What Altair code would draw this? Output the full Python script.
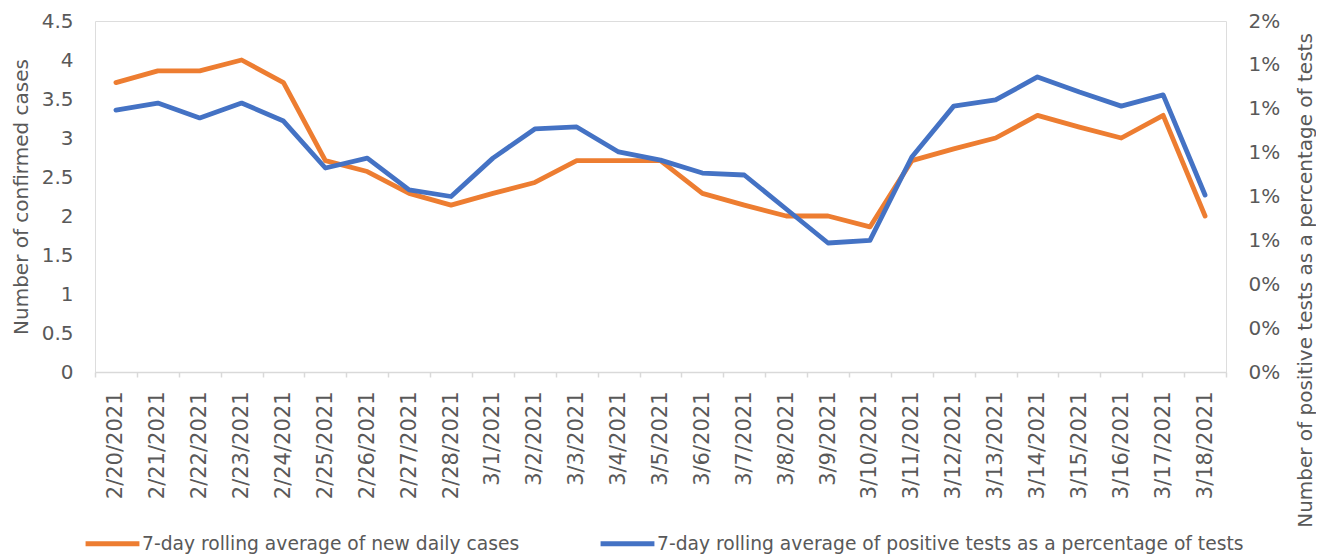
import altair as alt
import pandas as pd

dates = ["2/20/2021", "2/21/2021", "2/22/2021", "2/23/2021", "2/24/2021", "2/25/2021",
         "2/26/2021", "2/27/2021", "2/28/2021", "3/1/2021", "3/2/2021", "3/3/2021",
         "3/4/2021", "3/5/2021", "3/6/2021", "3/7/2021", "3/8/2021", "3/9/2021",
         "3/10/2021", "3/11/2021", "3/12/2021", "3/13/2021", "3/14/2021", "3/15/2021",
         "3/16/2021", "3/17/2021", "3/18/2021"]

cases = [3.71, 3.86, 3.86, 4.00, 3.71, 2.71, 2.57, 2.29, 2.14, 2.29, 2.43, 2.71,
         2.71, 2.71, 2.29, 2.14, 2.00, 2.00, 1.86, 2.71, 2.86, 3.00, 3.29, 3.14,
         3.00, 3.29, 2.00]

pct_positive = [1.194, 1.226, 1.158, 1.226, 1.144, 0.930, 0.975, 0.830, 0.800, 0.975,
                1.108, 1.117, 1.003, 0.966, 0.907, 0.898, 0.743, 0.588, 0.600, 0.980,
                1.212, 1.240, 1.345, 1.276, 1.212, 1.263, 0.807]

series_names = ["7-day rolling average of new daily cases",
                "7-day rolling average of positive tests as a percentage of tests"]
series_colors = ["#ED7D31", "#4472C4"]

left_ticks = [0, 0.5, 1, 1.5, 2, 2.5, 3, 3.5, 4, 4.5]
right_ticks = [0, 0.002, 0.004, 0.006, 0.008, 0.010, 0.012, 0.014, 0.016]

df_cases = pd.DataFrame({"date": dates, "value": cases, "series": series_names[0]})
df_pct = pd.DataFrame({"date": dates, "value": [p / 100 for p in pct_positive],
                       "series": series_names[1]})

FONT = "DejaVu Sans"
FS = 20
GRAY = "#595959"
AXIS_GRAY = "#D9D9D9"

x_enc = alt.X(
    "date:N", sort=dates, bandPosition=0.5,
    scale=alt.Scale(type="band", paddingInner=0, paddingOuter=0),
    axis=alt.Axis(title=None, labelAngle=270, labelAlign="right", labelBaseline="middle",
                  labelPadding=14, tickBand="extent", domainColor=AXIS_GRAY,
                  tickColor=AXIS_GRAY, tickSize=5, domainWidth=1.5, tickWidth=1.5,
                  labelFontSize=21, labelColor=GRAY, labelFont=FONT, grid=False,
                  labelOverlap=False),
)

color_enc = alt.Color(
    "series:N",
    scale=alt.Scale(domain=series_names, range=series_colors),
    legend=alt.Legend(title=None, orient="none", legendX=-12, legendY=493,
                      direction="horizontal", symbolType="stroke",
                      symbolSize=2900, symbolStrokeWidth=5,
                      labelFontSize=18.7, labelFont=FONT, labelColor=GRAY,
                      labelLimit=1000, columnPadding=70, labelOffset=0),
)

line_props = dict(strokeWidth=4.8, strokeCap="round", strokeJoin="round")

orange = alt.Chart(df_cases).mark_line(**line_props).encode(
    x=x_enc,
    y=alt.Y("value:Q", scale=alt.Scale(domain=[0, 4.5], nice=False, zero=True),
            axis=alt.Axis(title="Number of confirmed cases", values=left_ticks,
                          format="~g",
                          domain=False, ticks=False, grid=False, labelPadding=22,
                          labelFontSize=FS, labelColor=GRAY, labelFont=FONT,
                          titleFontSize=FS, titleColor=GRAY, titleFont=FONT,
                          titleFontWeight="normal", titleAngle=270,
                          titleX=-74, titleY=175.5, titleAlign="center",
                          titleBaseline="middle")),
    color=color_enc,
)

blue = alt.Chart(df_pct).mark_line(**line_props).encode(
    x=x_enc,
    y=alt.Y("value:Q", scale=alt.Scale(domain=[0, 0.016], nice=False, zero=True),
            axis=alt.Axis(title="Number of positive tests as a percentage of tests",
                          orient="right", values=right_ticks, format=".0%",
                          domain=False, ticks=False, grid=False, labelPadding=22,
                          labelFontSize=FS, labelColor=GRAY, labelFont=FONT,
                          titleFontSize=FS, titleColor=GRAY, titleFont=FONT,
                          titleFontWeight="normal", titleAngle=270,
                          titleX=79, titleY=259, titleAlign="center",
                          titleBaseline="middle")),
    color=color_enc,
)

chart = alt.layer(orange, blue).resolve_scale(y="independent").properties(
    width=1131, height=351,
    autosize=alt.AutoSizeParams(type="none"),
    padding={"left": 87, "top": 13, "right": 90, "bottom": 185},
).configure_view(stroke=None).configure(background="white")

chart.save("out.html", embed_options={"renderer": "svg", "actions": False})
